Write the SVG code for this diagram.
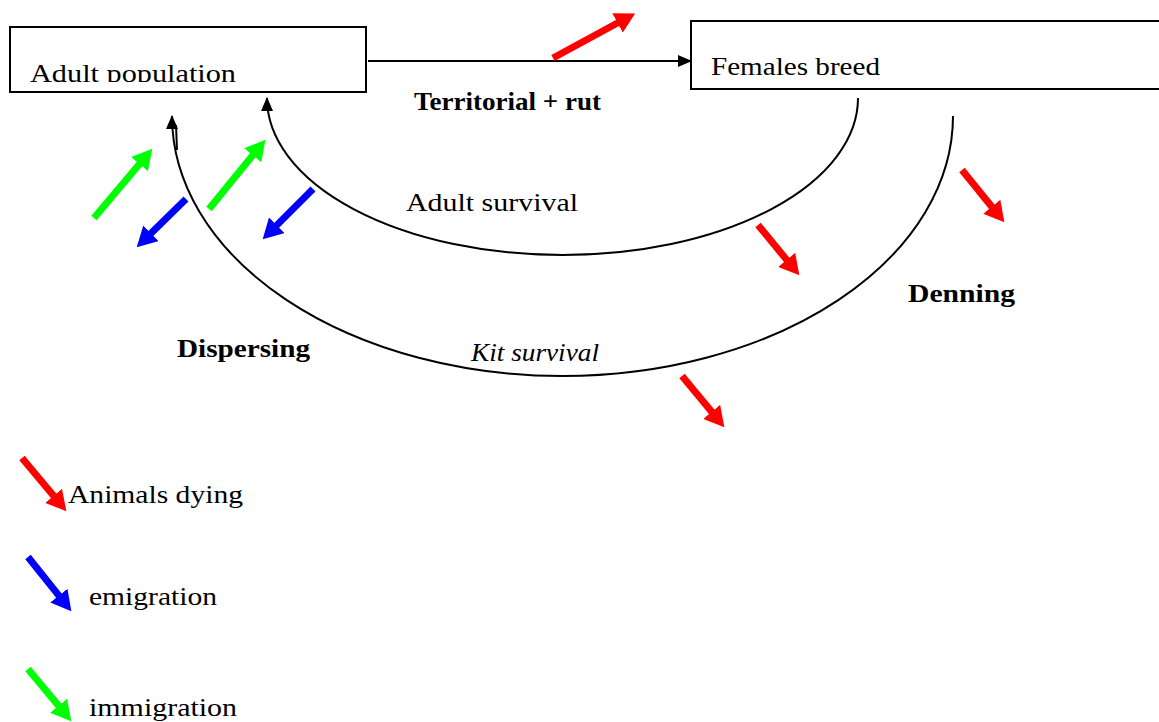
<svg xmlns="http://www.w3.org/2000/svg" width="1159" height="722" viewBox="0 0 1159 722">
<style>
.t{font-family:"Liberation Serif","Times New Roman",serif;font-size:26px;fill:#000}
.b{font-weight:bold}
.i{font-style:italic}
.box{fill:#fff;stroke:#000;stroke-width:2}
.cn{fill:none;stroke:#000;stroke-width:2}
.fr{stroke:#ff0000;stroke-width:7;fill:none}
.fg{stroke:#00ff00;stroke-width:7;fill:none}
.fb{stroke:#0000ff;stroke-width:7;fill:none}
</style>
<defs>
<marker id="ar" viewBox="0 -11 20 22" refX="1" refY="0" markerWidth="20" markerHeight="22" markerUnits="userSpaceOnUse" orient="auto"><path d="M0,-11 L20,0 L0,11 z" fill="#ff0000"/></marker>
<marker id="ag" viewBox="0 -11 20 22" refX="1" refY="0" markerWidth="20" markerHeight="22" markerUnits="userSpaceOnUse" orient="auto"><path d="M0,-11 L20,0 L0,11 z" fill="#00ff00"/></marker>
<marker id="ab" viewBox="0 -11 20 22" refX="1" refY="0" markerWidth="20" markerHeight="22" markerUnits="userSpaceOnUse" orient="auto"><path d="M0,-11 L20,0 L0,11 z" fill="#0000ff"/></marker>
<marker id="ak" viewBox="0 -6 14 12" refX="13" refY="0" markerWidth="14" markerHeight="12" markerUnits="userSpaceOnUse" orient="auto"><path d="M0,-6 L14,0 L0,6 z" fill="#000"/></marker>
<clipPath id="c1"><rect x="11" y="28" width="354" height="54"/></clipPath>
</defs>
<g id="adult-population">
<rect class="box" x="10" y="27" width="356" height="65"/>
<text class="t" x="30" y="81.5" textLength="206" lengthAdjust="spacingAndGlyphs" clip-path="url(#c1)">Adult population</text>
</g>
<g id="females-breed">
<rect class="box" x="691" y="21" width="470" height="68"/>
<text class="t" x="711" y="75" textLength="169" lengthAdjust="spacingAndGlyphs">Females breed</text>
</g>
<g id="connectors">
<line class="cn" x1="368" y1="61" x2="691" y2="61" marker-end="url(#ak)"/>
<path class="cn" d="M 858 98 A 295.5 157 0 0 1 267 98" marker-end="url(#ak)"/>
<path class="cn" d="M 953 116 A 390.5 260 0 0 1 172 116" marker-end="url(#ak)"/>
<line class="cn" x1="176" y1="125" x2="177" y2="150" stroke-width="1.5"/>
</g>
<g id="labels">
<text class="t b" x="414" y="110" textLength="187" lengthAdjust="spacingAndGlyphs">Territorial + rut</text>
<text class="t" x="406" y="211" textLength="172" lengthAdjust="spacingAndGlyphs">Adult survival</text>
<text class="t b" x="908" y="302" textLength="107" lengthAdjust="spacingAndGlyphs">Denning</text>
<text class="t b" x="177" y="357" textLength="133" lengthAdjust="spacingAndGlyphs">Dispersing</text>
<text class="t i" x="471" y="361" textLength="128" lengthAdjust="spacingAndGlyphs">Kit survival</text>
</g>
<g id="flow-arrows">
<line class="fr" x1="553" y1="58" x2="618.4" y2="22.5" marker-end="url(#ar)"/>
<line class="fr" x1="758" y1="225" x2="787.3" y2="260.6" marker-end="url(#ar)"/>
<line class="fr" x1="962" y1="170" x2="992.4" y2="207.5" marker-end="url(#ar)"/>
<line class="fr" x1="682" y1="376" x2="712.3" y2="412.6" marker-end="url(#ar)"/>
<line class="fg" x1="94" y1="218" x2="140.1" y2="163.3" marker-end="url(#ag)"/>
<line class="fg" x1="209" y1="209" x2="253.4" y2="154.5" marker-end="url(#ag)"/>
<line class="fb" x1="186" y1="199" x2="150.3" y2="234" marker-end="url(#ab)"/>
<line class="fb" x1="313" y1="189" x2="276.1" y2="225.9" marker-end="url(#ab)"/>
</g>
<g id="legend">
<line class="fr" x1="22" y1="458" x2="54.2" y2="496.6" marker-end="url(#ar)"/>
<text class="t" x="68" y="503" textLength="175" lengthAdjust="spacingAndGlyphs">Animals dying</text>
<line class="fb" x1="28" y1="557" x2="59.5" y2="596.4" marker-end="url(#ab)"/>
<text class="t" x="89" y="605" textLength="128" lengthAdjust="spacingAndGlyphs">emigration</text>
<line class="fg" x1="28" y1="669" x2="59.2" y2="706.6" marker-end="url(#ag)"/>
<text class="t" x="89" y="716" textLength="148" lengthAdjust="spacingAndGlyphs">immigration</text>
</g>
</svg>
